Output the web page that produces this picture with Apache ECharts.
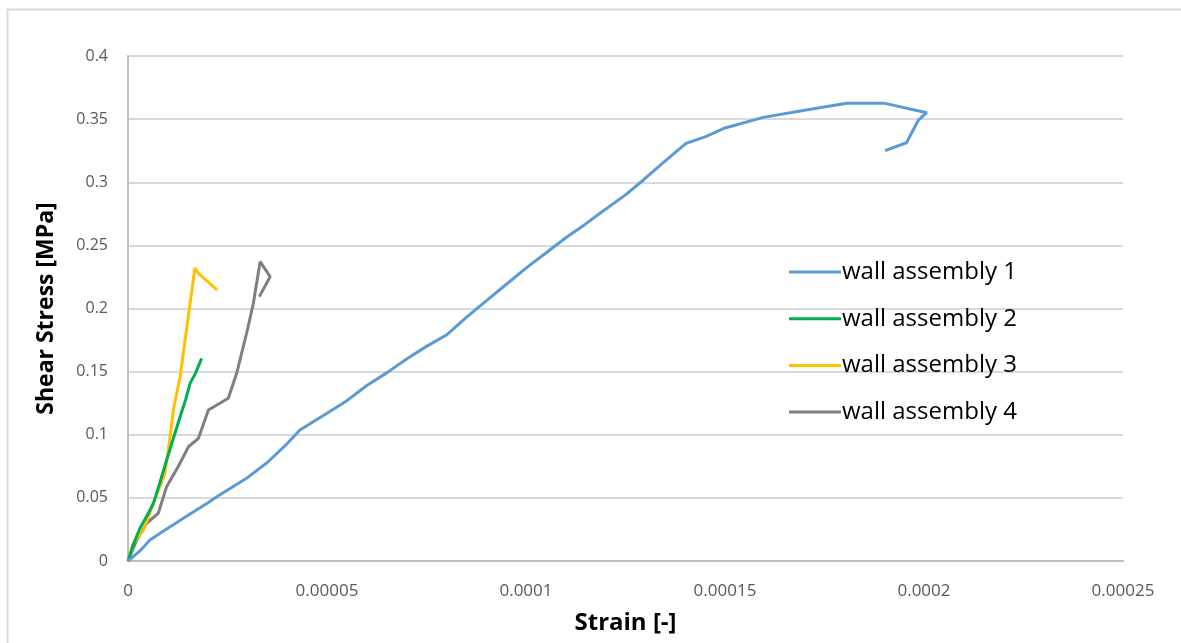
<!DOCTYPE html>
<html>
<head>
<meta charset="utf-8">
<title>Shear stress vs strain</title>
<script src="https://cdn.jsdelivr.net/npm/echarts@6/dist/echarts.min.js"></script>
<style>
  html, body { margin: 0; padding: 0; background: #ffffff; }
  #chart { width: 1181px; height: 643px; }
</style>
</head>
<body>
<div id="chart"></div>
<script>
// Strain [-] / shear stress [MPa] pairs for each wall assembly
const wallAssembly1 = [
  [0, 0], [0.000003, 0.008], [0.0000055, 0.0166], [0.00001, 0.026], [0.000015, 0.036],
  [0.00002, 0.046], [0.0000223, 0.0509], [0.00003, 0.066], [0.000035, 0.078],
  [0.00004, 0.093], [0.0000432, 0.1038], [0.00005, 0.117], [0.000055, 0.127],
  [0.00006, 0.139], [0.000065, 0.149], [0.00007, 0.16], [0.000075, 0.17],
  [0.00008, 0.179], [0.000085, 0.193], [0.00009, 0.206], [0.000095, 0.219],
  [0.0001, 0.232], [0.000105, 0.244], [0.00011, 0.256], [0.000115, 0.267],
  [0.0001186, 0.2754], [0.000125, 0.29], [0.0001295, 0.3018], [0.000135, 0.317],
  [0.0001402, 0.3308], [0.000145, 0.336], [0.00015, 0.343], [0.0001596, 0.3514],
  [0.00017, 0.357], [0.0001806, 0.3625], [0.0001902, 0.3625], [0.0002007, 0.3551],
  [0.0001986, 0.3493], [0.0001956, 0.3313], [0.0001902, 0.325]
];
const wallAssembly2 = [
  [0, 0], [0.0000012, 0.012], [0.000003, 0.0259], [0.0000048, 0.036],
  [0.0000064, 0.0457], [0.000008, 0.062], [0.0000097, 0.08], [0.0000113, 0.096],
  [0.0000131, 0.1143], [0.0000145, 0.128], [0.0000156, 0.1407], [0.000017, 0.149],
  [0.0000185, 0.1605]
];
const wallAssembly3 = [
  [0, 0], [0.0000013, 0.014], [0.0000039, 0.0246], [0.0000064, 0.0457],
  [0.0000093, 0.0695], [0.0000106, 0.0985], [0.0000114, 0.1196], [0.0000131, 0.146],
  [0.0000168, 0.2319], [0.0000177, 0.2279], [0.0000224, 0.2147]
];
const wallAssembly4 = [
  [0, 0], [0.0000022, 0.0166], [0.0000047, 0.0299], [0.0000076, 0.0378],
  [0.0000097, 0.0589], [0.0000126, 0.0747], [0.0000152, 0.0905], [0.0000177, 0.0972],
  [0.0000202, 0.1196], [0.0000252, 0.1289], [0.0000273, 0.1487], [0.0000298, 0.1804],
  [0.0000315, 0.2041], [0.0000332, 0.2371], [0.0000357, 0.2252], [0.000033, 0.2094]
];

const seriesNames = ['wall assembly 1', 'wall assembly 2', 'wall assembly 3', 'wall assembly 4'];
const seriesColors = ['#5b9bd5', '#00b050', '#ffc000', '#7f7f7f'];
const seriesData = [wallAssembly1, wallAssembly2, wallAssembly3, wallAssembly4];

const xTickStep = 0.00005;
const yTickStep = 0.05;

const chart = echarts.init(document.getElementById('chart'), null, { renderer: 'canvas' });

const fmt = v => (v === 0 ? '0' : String(+v.toFixed(6)));

chart.setOption({
  animation: false,
  backgroundColor: '#ffffff',
  graphic: [{
    type: 'rect',
    left: 5, top: 7,
    shape: { width: 1300, height: 800 },
    style: { fill: 'none', stroke: '#d9d9d9', lineWidth: 2 },
    silent: true
  }],
  grid: { left: 128, right: 58, top: 56, bottom: 82, containLabel: false },
  xAxis: {
    type: 'value',
    min: 0, max: 0.00025, interval: xTickStep,
    name: 'Strain [-]',
    nameLocation: 'middle',
    nameGap: 50,
    nameTextStyle: { fontFamily: 'Open Sans', fontSize: 24, fontWeight: 'bold', color: '#000000' },
    axisLine: { show: true, lineStyle: { color: '#bfbfbf', width: 2 } },
    axisTick: { show: false },
    axisLabel: { formatter: fmt, fontFamily: 'Open Sans', fontSize: 17, color: '#595959', margin: 22 },
    splitLine: { show: false }
  },
  yAxis: {
    type: 'value',
    min: 0, max: 0.4, interval: yTickStep,
    name: 'Shear Stress [MPa]',
    nameLocation: 'middle',
    nameGap: 70,
    nameRotate: 90,
    nameTextStyle: { fontFamily: 'Open Sans', fontSize: 23, fontWeight: 'bold', color: '#000000' },
    axisLine: { show: true, lineStyle: { color: '#bfbfbf', width: 2 } },
    axisTick: { show: false },
    axisLabel: { formatter: fmt, fontFamily: 'Open Sans', fontSize: 16, color: '#595959', margin: 20 },
    splitLine: { show: true, lineStyle: { color: '#d9d9d9', width: 2 } }
  },
  legend: {
    orient: 'vertical',
    left: 784, top: 254,
    icon: 'rect',
    itemWidth: 52, itemHeight: 3, itemGap: 20.7,
    textStyle: { fontFamily: 'Open Sans', fontSize: 24, lineHeight: 26, color: '#000000', padding: [0, 0, 0, -4] },
    data: seriesNames.map((n, i) => ({
      name: n,
      itemStyle: { color: seriesColors[i] }
    }))
  },
  series: seriesData.map((d, i) => ({
    name: seriesNames[i],
    type: 'line',
    data: d,
    showSymbol: false,
    symbol: 'none',
    smooth: false,
    color: seriesColors[i],
    lineStyle: { width: 3, color: seriesColors[i] },
    z: 10 - i
  }))
});
</script>
</body>
</html>
